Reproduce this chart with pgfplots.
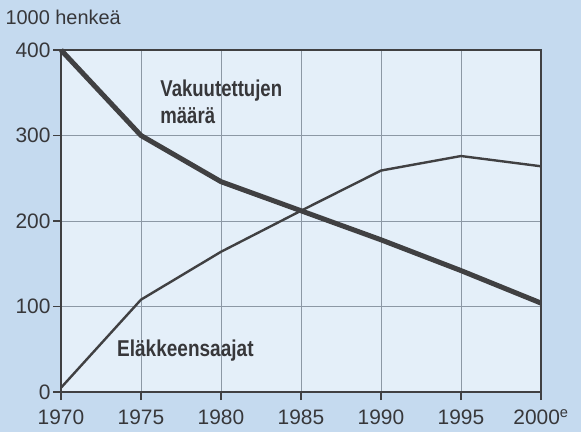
\documentclass[border=0pt]{standalone}
\usepackage{pgfplots}
\pgfplotsset{compat=1.18}
\usepackage{fontspec}
\setmainfont{Liberation Sans}
\definecolor{outerbg}{RGB}{197,218,239}
\definecolor{innerbg}{RGB}{228,239,249}
\definecolor{linegray}{RGB}{64,64,66}
\definecolor{gridgray}{RGB}{140,152,165}
\definecolor{textgray}{RGB}{55,55,58}
\begin{document}
\begin{tikzpicture}[x=1bp,y=1bp]
\fill[outerbg] (-61bp,-40bp) rectangle (520bp,392bp);
\fill[innerbg] (0,0) rectangle (480bp,342bp);
\begin{axis}[
  scale only axis,
  width=480bp, height=342bp,
  xmin=1970, xmax=2000, ymin=0, ymax=400,
  xtick={1970,1975,1980,1985,1990,1995,2000},
  xticklabels={1970,1975,1980,1985,1990,1995,{2000\textsuperscript{e}}},
  ytick={0,100,200,300,400},
  xtick pos=left, ytick pos=left,
  tick align=outside,
  major tick length=8bp,
  tick style={linegray, line width=1.2bp},
  axis line style={linegray, line width=1.3bp},
  grid=major,
  major grid style={gridgray, line width=0.8bp},
  ticklabel style={font=\fontsize{21}{23}\selectfont, text=textgray},
  xticklabel style={yshift=-6bp},
  yticklabel style={xshift=1bp},
  /pgf/number format/assume math mode=true,
  /pgf/number format/1000 sep={},
  clip=false,
  axis background/.style={fill=none},
]
\addplot[linegray, line width=5bp, line join=round] coordinates {
  (1970,400) (1975,300) (1980,246) (1985,212) (1990,178) (1995,142) (2000,104)
};
\addplot[linegray, line width=2.4bp, line join=round] coordinates {
  (1970,5) (1975,108) (1980,164) (1985,212) (1990,259) (1995,276) (2000,264)
};
\node[anchor=base west, inner sep=0pt, font=\fontsize{23}{26}\selectfont\bfseries, text=textgray]
  at (axis cs:1976.2,345.4) {\scalebox{0.81}[1]{Vakuutettujen}};
\node[anchor=base west, inner sep=0pt, font=\fontsize{23}{26}\selectfont\bfseries, text=textgray]
  at (axis cs:1976.2,314.3) {\scalebox{0.81}[1]{määrä}};
\node[anchor=base west, inner sep=0pt, font=\fontsize{23}{26}\selectfont\bfseries, text=textgray]
  at (axis cs:1973.5,41.3) {\scalebox{0.83}[1]{Eläkkeensaajat}};
\end{axis}
\node[anchor=west, font=\fontsize{20}{22}\selectfont, text=textgray] at (-59bp,375bp) {1000 henkeä};
\end{tikzpicture}
\end{document}
